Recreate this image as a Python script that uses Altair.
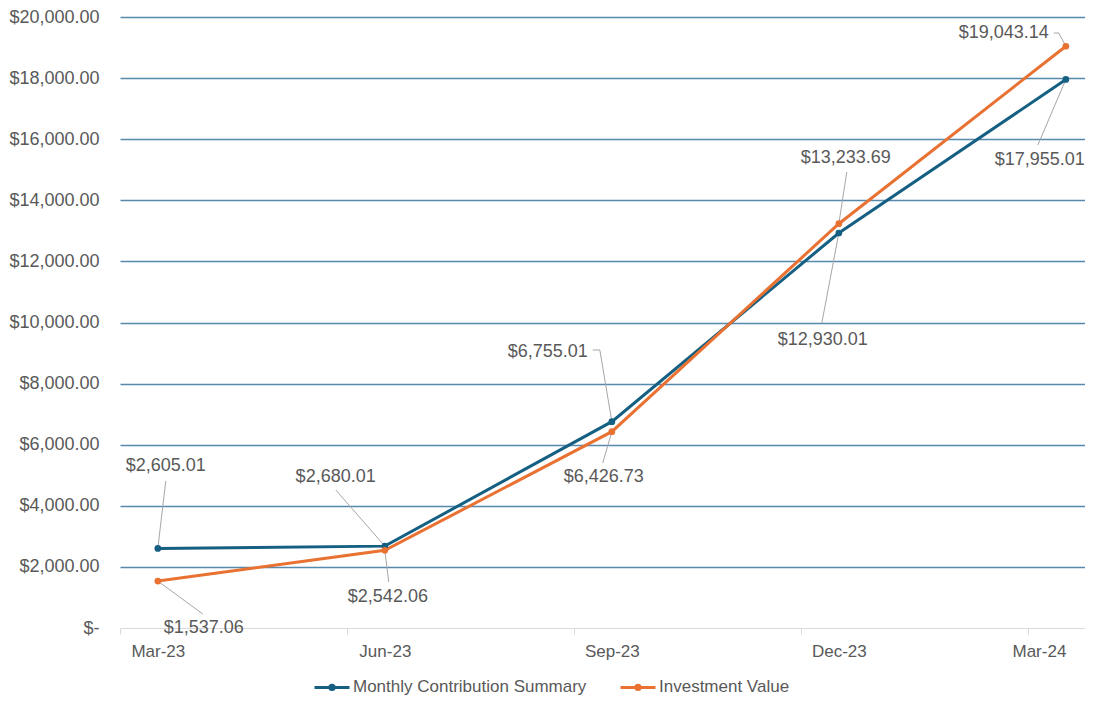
import altair as alt
import pandas as pd

# ---- data ----
months = [0, 3, 6, 9, 12]
month_labels = ["Mar-23", "Jun-23", "Sep-23", "Dec-23", "Mar-24"]
series_names = ["Monthly Contribution Summary", "Investment Value"]
contribution = [2605.01, 2680.01, 6755.01, 12930.01, 17955.01]
investment = [1537.06, 2542.06, 6426.73, 13233.69, 19043.14]

# ---- data-label placement (in data units: month, dollars) ----
contrib_label_x = [0.105, 2.35, 5.153, 8.788, 11.655]
contrib_label_y = [5303, 4943, 9034, 9427, 15319]
invest_label_x = [0.607, 3.04, 5.894, 9.092, 11.18]
invest_label_y = [0, 1015, 4943, 15385, 19476]
# leader-line ends on the label side
contrib_leader_x = [0.105, 2.352, 5.841, 8.775, 11.63]
contrib_leader_y = [4812, 4517, 9100, 9984, 15810]
invest_leader_x = [0.594, 3.052, 5.88, 9.105, 11.906]
invest_leader_y = [458, 1506, 5401, 14926, 19476]
# short horizontal stubs of elbow leaders
stub_x = [5.748, 11.84]
stub_x2 = [5.841, 11.906]
stub_y = [9100, 19476]

BLUE = "#156082"
ORANGE = "#E97132"
TEXT = "#595959"
FONT = "Liberation Sans"

pts = pd.DataFrame({
    "month": months + months,
    "series": [series_names[0]] * 5 + [series_names[1]] * 5,
    "value": contribution + investment,
})

labels = pd.DataFrame({
    "lx": contrib_label_x + invest_label_x,
    "ly": contrib_label_y + invest_label_y,
    "text": ["$" + format(v, ",.2f") for v in contribution + investment],
})

leaders = pd.DataFrame({
    "x": months + months,
    "y": contribution + investment,
    "x2": contrib_leader_x + invest_leader_x,
    "y2": contrib_leader_y + invest_leader_y,
})

stubs = pd.DataFrame({"x": stub_x, "x2": stub_x2, "y": stub_y})

xscale = alt.Scale(domain=[-0.5, 12.253], nice=False, zero=False)
yscale = alt.Scale(domain=[0, 20000], nice=False, zero=True)

label_expr = " : ".join(
    f"datum.value == {m} ? '{l}'" for m, l in zip(months, month_labels)
) + " : ''"

x_axis = alt.Axis(
    values=[-0.5, 0, 2.5, 3, 5.5, 6, 8.5, 9, 11.5, 12],
    labelExpr=label_expr,
    title=None,
    grid=False,
    domainColor="#d9d9d9",
    domainWidth=1,
    tickSize=6,
    tickWidth=1,
    tickColor={"condition": {"test": "datum.value % 3 != 0", "value": "#d9d9d9"}, "value": "transparent"},
    labelPadding=9,
    labelFontSize=17,
    labelColor=TEXT,
    labelFont=FONT,
    labelOverlap=False,
    labelFlush=25,
)

y_axis = alt.Axis(
    values=list(range(0, 20001, 2000)),
    labelExpr="datum.value == 0 ? '$-\u00a0\u00a0' : '$' + format(datum.value, ',.2f')",
    title=None,
    domain=False,
    ticks=False,
    labelPadding=21,
    labelFontSize=18,
    labelColor=TEXT,
    labelFont=FONT,
    gridColor={"condition": {"test": "datum.value == 0", "value": "transparent"}, "value": "#5689ab"},
    gridWidth=1.5,
)

symbol_path = "M-1,0 L1,0 M-0.12,0 A0.12,0.12 0 1,1 0.12,0 A0.12,0.12 0 1,1 -0.12,0 Z"

legend = alt.Legend(
    title=None,
    orient="none",
    legendX=193,
    legendY=651,
    direction="horizontal",
    symbolType=symbol_path,
    symbolSize=1225,
    symbolStrokeWidth=3,
    symbolOpacity=1,
    labelFontSize=17,
    labelColor=TEXT,
    labelFont=FONT,
    labelLimit=0,
    columnPadding=27,
    labelOffset=2,
)

color = alt.Color("series:N", scale=alt.Scale(domain=series_names, range=[BLUE, ORANGE]), legend=legend)

leader_layer = alt.Chart(leaders).mark_rule(color="#a6a6a6", strokeWidth=1).encode(
    x=alt.X("x:Q", scale=xscale, title=None),
    y=alt.Y("y:Q", scale=yscale, title=None),
    x2="x2:Q",
    y2="y2:Q",
)

stub_layer = alt.Chart(stubs).mark_rule(color="#a6a6a6", strokeWidth=1).encode(
    x=alt.X("x:Q", scale=xscale, title=None),
    x2="x2:Q",
    y=alt.Y("y:Q", scale=yscale, title=None),
)

line_layer = alt.Chart(pts).mark_line(strokeWidth=3).encode(
    x=alt.X("month:Q", scale=xscale, axis=x_axis),
    y=alt.Y("value:Q", scale=yscale, axis=y_axis),
    color=color,
    order=alt.Order("month:Q"),
)

point_layer = alt.Chart(pts).mark_point(filled=True, size=45, opacity=1).encode(
    x=alt.X("month:Q", scale=xscale, title=None),
    y=alt.Y("value:Q", scale=yscale, title=None),
    color=color,
)

text_layer = alt.Chart(labels).mark_text(
    font=FONT, fontSize=18, color=TEXT, align="center", baseline="middle"
).encode(
    x=alt.X("lx:Q", scale=xscale, title=None),
    y=alt.Y("ly:Q", scale=yscale, title=None),
    text="text:N",
)

chart = alt.layer(line_layer, leader_layer, stub_layer, point_layer, text_layer).properties(
    width=965,
    height=611,
    autosize=alt.AutoSizeParams(type="none"),
    padding={"left": 112, "top": 9, "right": 0, "bottom": 68},
).configure_view(stroke=None)

chart.save("out.html", embed_options={"renderer": "svg", "actions": False})
